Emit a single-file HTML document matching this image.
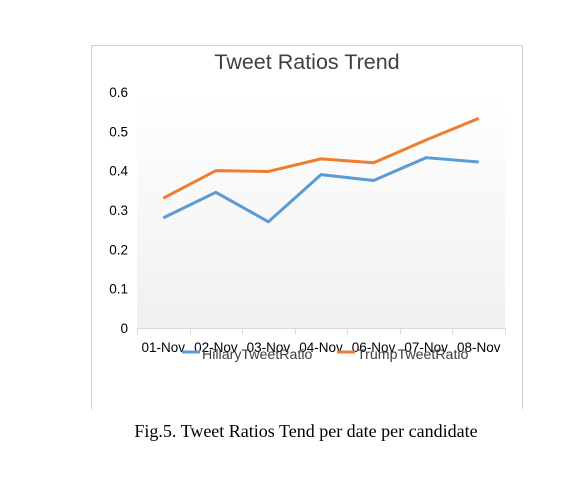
<!DOCTYPE html>
<html><head><meta charset="utf-8"><style>
body{margin:0;background:#fff;width:581px;height:487px;overflow:hidden}
svg{display:block}
</style></head><body>
<svg width="581" height="487" font-family="'Liberation Sans','DejaVu Sans',sans-serif">
<defs><linearGradient id="bg" x1="0" y1="0" x2="0" y2="1"><stop offset="0" stop-color="#ffffff"/><stop offset="1" stop-color="#f0f0f0"/></linearGradient></defs>
<path d="M91.5 409 V45.5 H522.5 V409" fill="none" stroke="#cfcfcf"/>
<text x="307" y="69" font-size="21.5" fill="#404040" text-anchor="middle">Tweet Ratios Trend</text>
<rect x="137" y="92" width="368" height="236" fill="url(#bg)"/>
<g id="yaxis"></g>
<g id="xaxis"></g>
<g id="series"></g>
<g>
<line x1="182" y1="352" x2="200" y2="352" stroke="#5b9bd5" stroke-width="3"/>
<text x="202" y="359" font-size="14.2" fill="#404040">HillaryTweetRatio</text>
<line x1="337" y1="352" x2="355" y2="352" stroke="#ed7d31" stroke-width="3"/>
<text x="357" y="359" font-size="14.2" fill="#404040">TrumpTweetRatio</text>
</g>
<text x="306" y="437" font-size="18" font-family="'Liberation Serif',serif" fill="#000" text-anchor="middle">Fig.5. Tweet Ratios Tend per date per candidate</text>
</svg>
<script>
const categories=["01-Nov","02-Nov","03-Nov","04-Nov","06-Nov","07-Nov","08-Nov"];
const hillary=[0.28,0.345,0.27,0.39,0.375,0.433,0.422];
const trump=[0.33,0.40,0.398,0.43,0.42,0.478,0.533];
const yTicks=[0,0.1,0.2,0.3,0.4,0.5,0.6];
const NS="http://www.w3.org/2000/svg";
const X0=137,X1=505,Y0=328,Y1=92,YMAX=0.6;
const bw=(X1-X0)/categories.length;
const xs=i=>X0+bw*(i+0.5);
const ys=v=>Y0-(v/YMAX)*(Y0-Y1);
function mk(t,a,p){const e=document.createElementNS(NS,t);for(const k in a)e.setAttribute(k,a[k]);p.appendChild(e);return e;}
const ya=document.getElementById('yaxis');
yTicks.forEach(v=>{const t=mk('text',{x:128,y:ys(v)+5,'font-size':13.5,fill:'#000','text-anchor':'end'},ya);t.textContent=String(v);

});
const xa=document.getElementById('xaxis');
const ax=mk('line',{x1:X0,y1:Y0+0.5,x2:X1,y2:Y0+0.5,stroke:'#d9d9d9'},xa);


for(let i=0;i<=categories.length;i++){const x=Math.round(X0+bw*i)+0.5;const l=mk('line',{x1:x,y1:Y0,x2:x,y2:Y0+6,stroke:'#d9d9d9'},xa);

}
categories.forEach((c,i)=>{const t=mk('text',{x:xs(i),y:352,'font-size':13.5,fill:'#000','text-anchor':'middle'},xa);t.textContent=c;

});
const sg=document.getElementById('series');
[[hillary,'#5b9bd5','hillary-line'],[trump,'#ed7d31','trump-line']].forEach(([d,c,n])=>{
const p=mk('polyline',{points:d.map((v,i)=>xs(i)+','+ys(v)).join(' '),fill:'none',stroke:c,'stroke-width':3,'stroke-linejoin':'round'},sg);

});
</script>
</body></html>
